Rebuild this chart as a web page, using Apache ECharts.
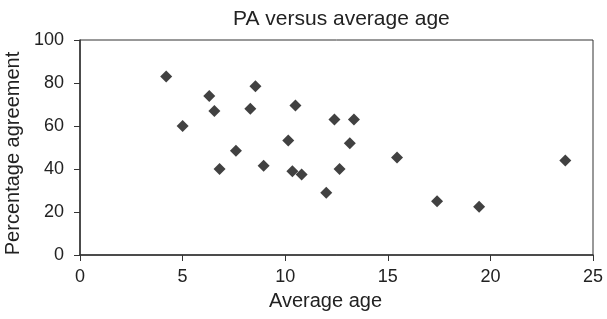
<!DOCTYPE html>
<html lang="en">
<head>
    <meta charset="UTF-8">
    <title>PA versus average age</title>
    <script src="https://cdn.jsdelivr.net/npm/echarts@6/dist/echarts.min.js"></script>
</head>
<body style="margin:0">
    <div id="main" style="width:607px;height:319px;"></div>
    <script>
    // average age (x) and percentage agreement (y)
    var avgAge = [4.2, 5.0, 6.3, 6.55, 6.8, 7.6, 8.3, 8.55, 8.95, 10.15, 10.5, 10.35, 10.8, 12.0, 12.4, 12.65, 13.15, 13.35, 15.45, 17.4, 19.45, 23.65];
    var pctAgree = [83, 60, 74, 67, 40, 48.5, 68, 78.5, 41.5, 53.3, 69.5, 39, 37.5, 29, 63, 40, 52, 63, 45.3, 25, 22.5, 44];
    var xTicks = [0, 5, 10, 15, 20, 25];
    var yTicks = [0, 20, 40, 60, 80, 100];

    var points = [];
    for (var i = 0; i < avgAge.length; i++) {
        points.push([avgAge[i], pctAgree[i]]);
    }

    var myChart = echarts.init(document.getElementById('main'));
    var txt = '#222';
    var font = '"Liberation Sans", Arial, sans-serif';
    var option = {
        animation: false,
        title: {
            text: 'PA versus average age',
            left: 228,
            top: 4,
            textStyle: { fontSize: 21, fontWeight: 'normal', color: txt, fontFamily: font }
        },
        grid: {
            left: 80, right: 14, top: 40, bottom: 64,
            outerBoundsMode: 'none',
            containLabel: false,
            show: true, borderColor: '#333', borderWidth: 1
        },
        xAxis: {
            type: 'value',
            min: xTicks[0], max: xTicks[xTicks.length - 1], interval: 5,
            name: 'Average age',
            nameLocation: 'middle',
            nameGap: 36,
            nameTextStyle: { fontSize: 20, color: txt, fontFamily: font, padding: [0, 22, 0, 0] },
            axisLine: { lineStyle: { color: '#333', width: 1.5 } },
            axisTick: { show: true, length: 6, lineStyle: { color: '#333' } },
            axisLabel: { fontSize: 18, color: txt, fontFamily: font, margin: 13 },
            splitLine: { show: false }
        },
        yAxis: {
            type: 'value',
            min: yTicks[0], max: yTicks[yTicks.length - 1], interval: 20,
            name: 'Percentage agreement',
            nameLocation: 'middle',
            nameGap: 52,
            nameTextStyle: { fontSize: 20, color: txt, fontFamily: font, padding: [0, 12, 0, 0] },
            axisLine: { show: true, lineStyle: { color: '#333', width: 1.5 } },
            axisTick: { show: true, length: 6, lineStyle: { color: '#333' } },
            axisLabel: { fontSize: 18, color: txt, fontFamily: font, margin: 16 },
            splitLine: { show: false }
        },
        series: [
            {
                type: 'scatter',
                symbol: 'diamond',
                symbolSize: [12, 12],
                itemStyle: { color: '#111' },
                data: points
            }
        ]
    };
    myChart.setOption(option);
    </script>
</body>
</html>
